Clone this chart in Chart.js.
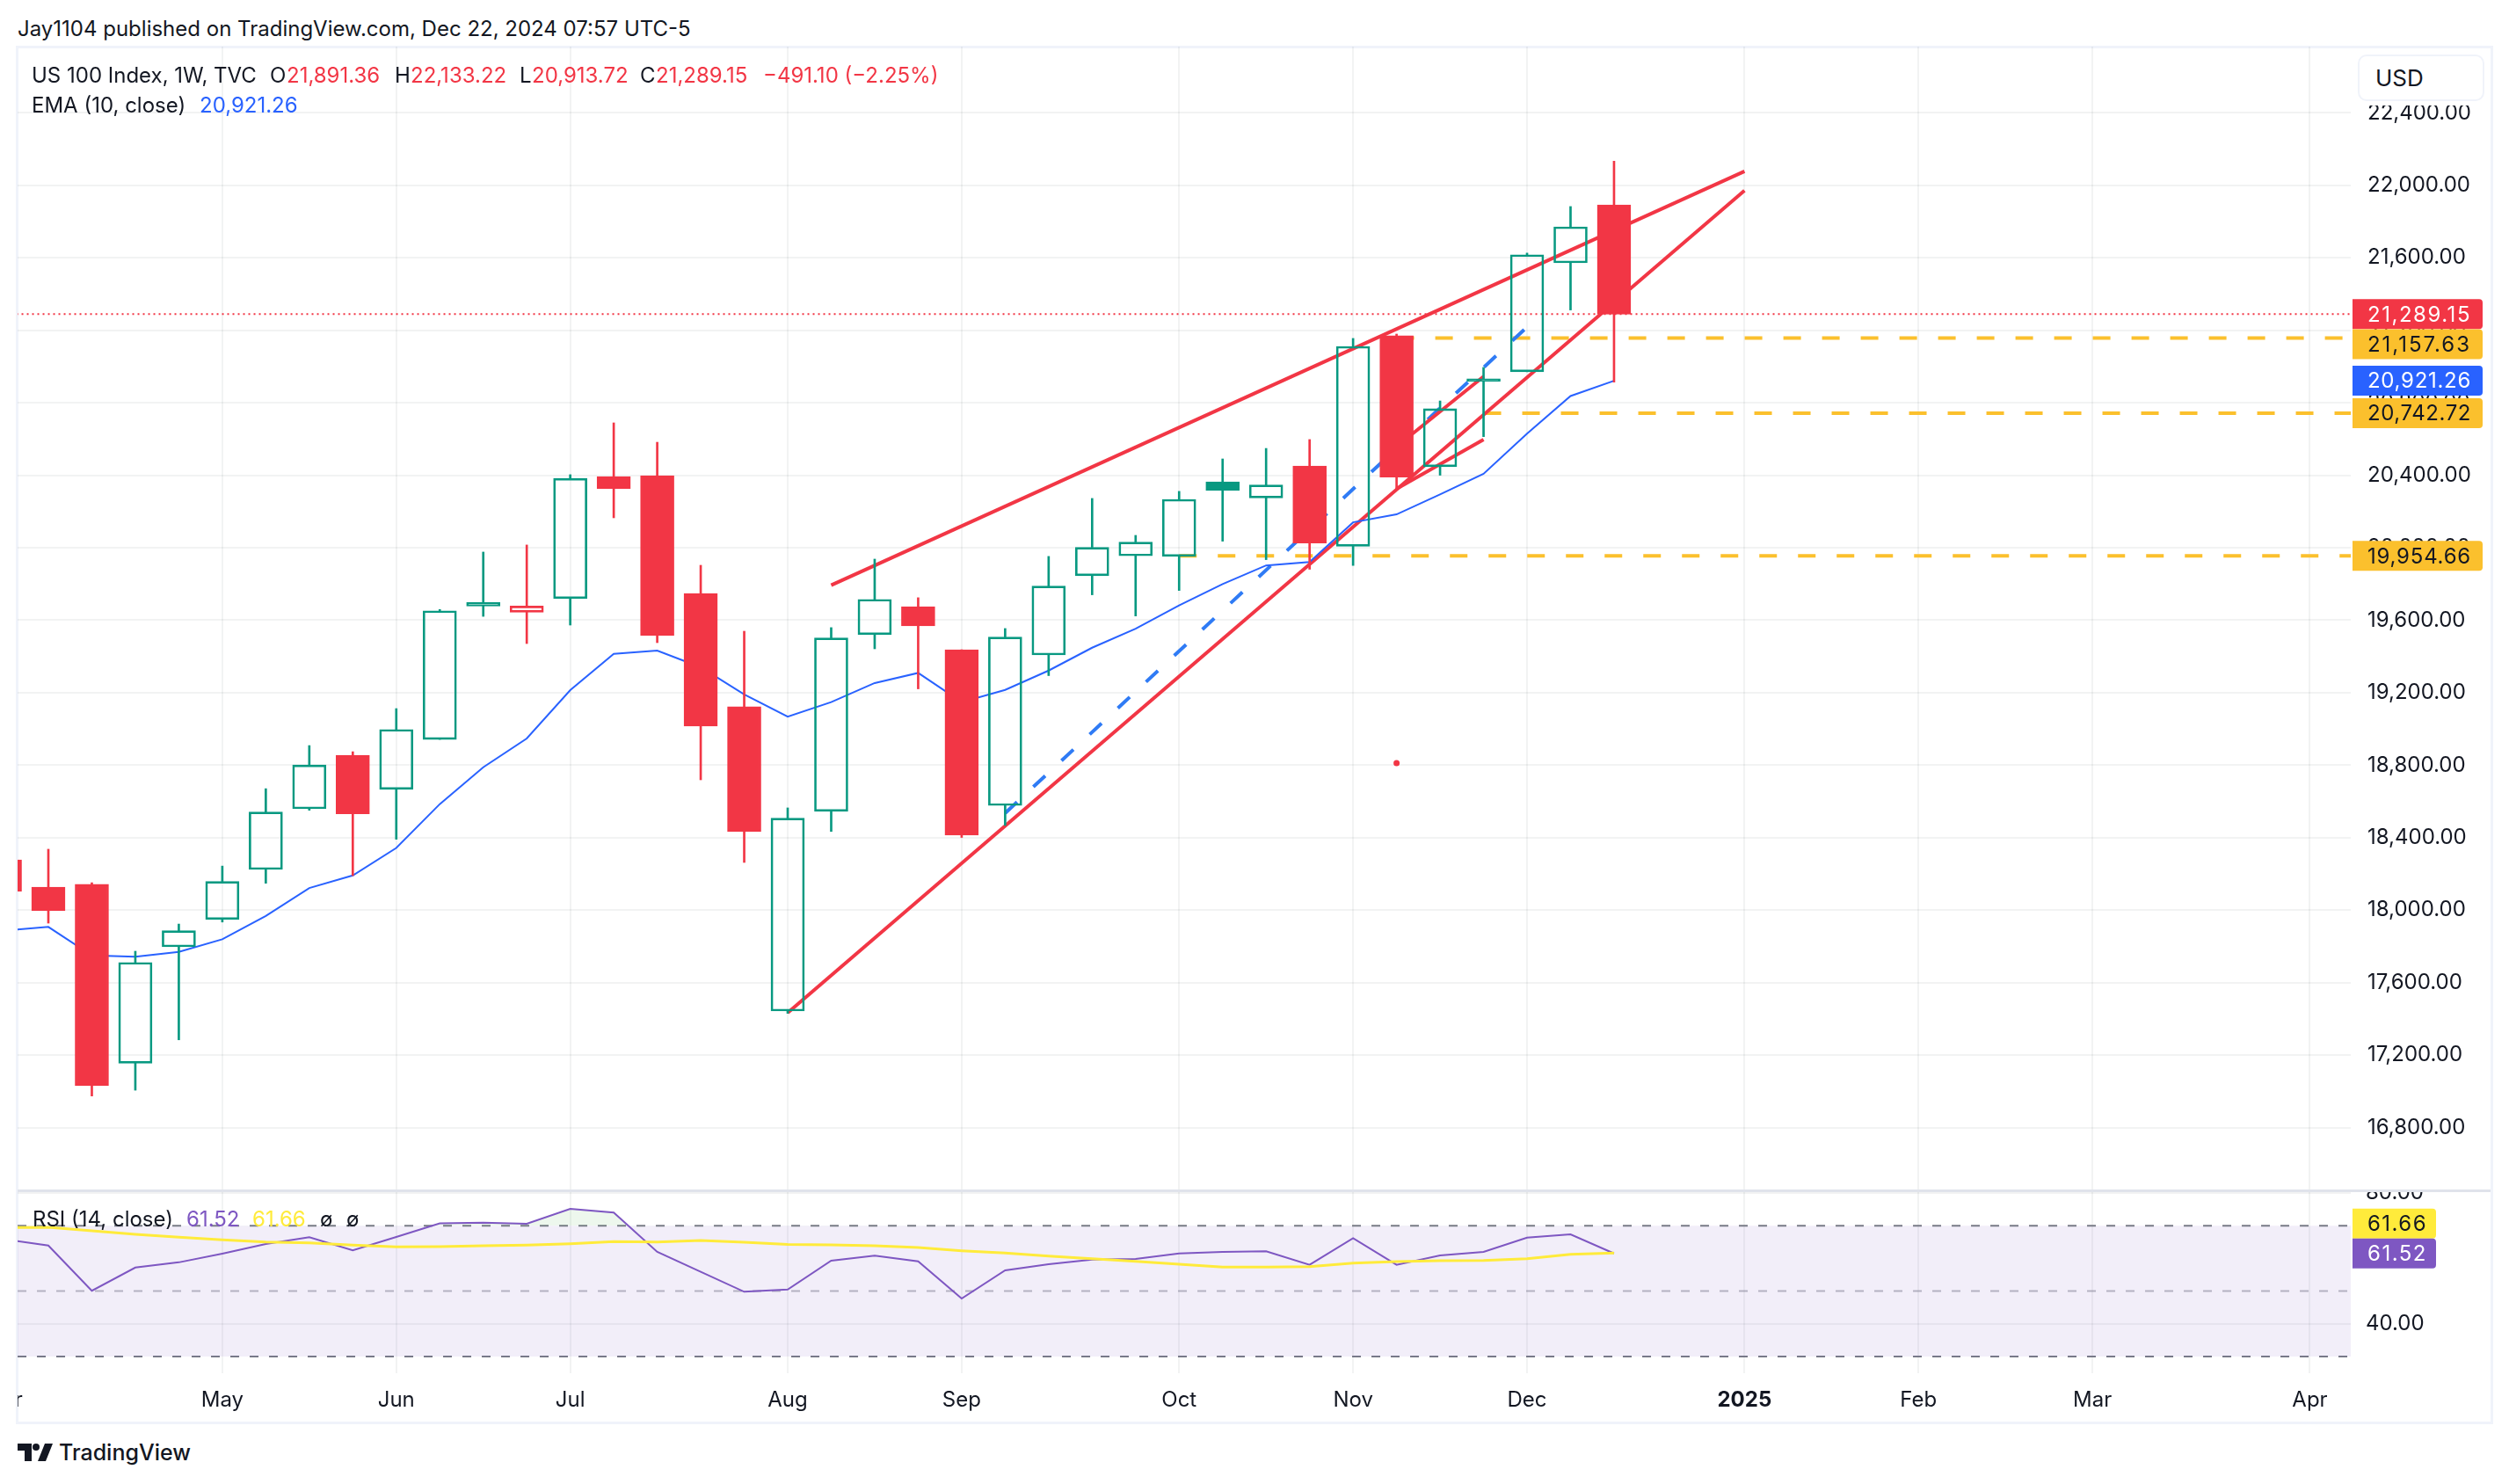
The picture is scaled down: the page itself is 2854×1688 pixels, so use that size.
<!DOCTYPE html>
<html>
<head>
<meta charset="utf-8">
<title>US 100 Index</title>
<script src="https://cdn.jsdelivr.net/npm/chart.js@4/dist/chart.umd.min.js"></script>
<style>
  html, body { margin: 0; padding: 0; background: #fff; width: 2854px; height: 1688px; overflow: hidden; }
  body { font-family: Inter, "Noto Sans", sans-serif; color: #131722; position: relative; }
  canvas { position: absolute; }
  .txt { position: absolute; white-space: nowrap; line-height: 30px; font-size: 24px; }
  .red { color: #f23645; }
  .blue { color: #2962ff; }
  .purple { color: #7e57c2; }
  .yellow { color: #ffeb3b; }
  #frame { position: absolute; left: 18px; top: 52px; width: 2812px; height: 1562px; border: 3px solid #f0f3fa; }
  #separator { position: absolute; left: 20px; top: 1353px; width: 2813px; height: 3px; background: #e0e3eb; }
  #axisCover { position: absolute; left: 2676px; top: 55px; width: 155px; height: 65px; background: #fff; }
  #usd { position: absolute; left: 2682px; top: 62px; width: 140px; height: 49px; border: 2px solid #f0f3fa; border-radius: 10px;
         background: #fff; font-size: 26px; line-height: 49px; text-indent: 18px; }
</style>
</head>
<body>
<div id="frame"></div>
<canvas id="priceChart" width="2813" height="1300" style="left:20px;top:53px"></canvas>
<div id="separator"></div>
<canvas id="rsiChart" width="2813" height="261" style="left:20px;top:1356px"></canvas>
<div id="axisCover"></div>
<div id="usd">USD</div>

<div class="txt" style="left:20px;top:18px;font-size:24px">Jay1104 published on TradingView.com, Dec 22, 2024 07:57 UTC-5</div>

<div class="txt" style="left:36px;top:71px">US 100 Index, 1W, TVC</div>
<div class="txt" style="left:307px;top:71px">O</div>
<div class="txt red" style="left:326px;top:71px">21,891.36</div>
<div class="txt" style="left:449px;top:71px">H</div>
<div class="txt red" style="left:467px;top:71px">22,133.22</div>
<div class="txt" style="left:591px;top:71px">L</div>
<div class="txt red" style="left:605px;top:71px">20,913.72</div>
<div class="txt" style="left:728px;top:71px">C</div>
<div class="txt red" style="left:746px;top:71px">21,289.15</div>
<div class="txt red" style="left:868px;top:71px">−491.10 (−2.25%)</div>
<div class="txt" style="left:36px;top:105px">EMA (10, close)</div>
<div class="txt blue" style="left:227px;top:105px">20,921.26</div>

<div class="txt" style="left:37px;top:1372px">RSI (14, close)</div>
<div class="txt purple" style="left:212px;top:1372px">61.52</div>
<div class="txt yellow" style="left:287px;top:1372px">61.66</div>
<div class="txt" style="left:364px;top:1372px">ø</div>
<div class="txt" style="left:394px;top:1372px">ø</div>

<svg style="position:absolute;left:20px;top:1642px" width="40" height="20" viewBox="0 0 40 20">
  <path d="M0 0H16V20H8V8H0Z M31 0H40L32 20H23Z" fill="#131722"></path>
  <circle cx="21" cy="4" r="4" fill="#131722"></circle>
</svg>
<div class="txt" style="left:67px;top:1637px;font-size:25px;font-weight:500">TradingView</div>

<script>
// ===== 1. CHART DATA =====
const weekIndexes = [-1,0,1,2,3,4,5,6,7,8,9,10,11,12,13,14,15,16,17,18,19,20,21,22,23,24,25,26,27,28,29,30,31,32,33,34,35,36];

const opens = [18277,18127,18142,17155,17797,17948,18224,18559,18855,18666,18942,19678,19644,19719,20393,20398,19747,19122,17443,18545,19520,19675,19437,18577,19408,19845,19955,19952,20364,20275,20451,20008,21170,20447,20932,20971,21572,21891.36];
const highs = [18300,18336,18151,17773,17923,18243,18670,18908,18874,19112,19659,19976,20015,20403,20689,20582,19903,19539,18564,19559,19937,19724,19437,19554,19952,20272,20068,20311,20490,20548,20597,21155,21179,20810,20995,21626,21883,22133.22];
const lows = [18080,17928,16974,17006,17284,17934,18148,18551,18190,18391,18942,19621,19471,19573,20165,19476,18719,18263,17430,18434,19442,19221,18401,18467,19294,19740,19623,19764,20036,19934,19881,19902,20319,20400,20613,20971,21312,20913.72];
const closes = [18103,17996,17031,17711,17886,18158,18541,18801,18531,18997,19652,19698,19678,20383,20325,19515,19015,18433,18507,19502,19715,19568,18414,19507,19788,20002,20031,20267,20316,20346,20026,21111,20390,20767,20919,21617,21771,21289.15];
const emaValues = [17887,17907,17750,17742,17769,17839,17968,18122,18191,18343,18585,18788,18947,19214,19414,19432,19340,19190,19068,19148,19253,19309,19148,19215,19322,19448,19553,19682,19799,19902,19921,20140,20184,20294,20408,20629,20837,20921.26];

const rsiValues = [65.8,63.95,50.1,57.2,58.8,61.45,64.4,66.5,62.45,66.55,70.7,70.95,70.6,75.15,74,62,55.9,49.8,50.5,59.3,60.83,59.11,47.74,56.34,58.23,59.65,59.84,61.53,61.99,62.18,58.04,66.21,58.04,60.91,61.99,66.37,67.37,61.52];
const rsiMaValues = [69.4,69.52,68.44,67.37,66.48,65.67,65.03,64.76,64.06,63.52,63.6,63.87,64.06,64.49,65.13,65.03,65.48,64.95,64.27,64.14,63.87,63.33,62.34,61.64,60.73,59.92,59.11,58.23,57.34,57.34,57.5,58.58,59.03,59.3,59.38,59.92,61.26,61.66];

const monthTicks = [-1,4,8,12,17,21,26,30,34,39,43,47,52];
const monthLabels = ['Apr','May','Jun','Jul','Aug','Sep','Oct','Nov','Dec','2025','Feb','Mar','Apr'];
const priceTicks = [16800,17200,17600,18000,18400,18800,19200,19600,20000,20400,20800,21200,21600,22000,22400];
const rsiTicks = [40,80];

// drawn lines on the chart: [week, week] and [price, price]
const upperTrendWeeks = [18,39];
const upperTrendPrices = [19793,22077];
const lowerTrendWeeks = [17,39];
const lowerTrendPrices = [17433,21971];
const shortTrendWeeks = [31,33];
const shortTrendHighPrices = [20558,20945];
const shortTrendLowPrices = [20325,20597];
const blueTrendWeeks = [22,34];
const blueTrendPrices = [18535,21218];
const levelPrices = [21157.63,20742.72,19954.66];
const levelStartWeeks = [31,33,26];
const dotWeeks = [31];
const dotPrices = [18811];

// ===== 2. COLOURS AND AXIS RANGES =====
const RED = '#f23645';
const GREEN = '#089981';
const BLUE = '#2962ff';
const ORANGE = '#fbc02d';
const DARK = '#131722';
const GRID = 'rgba(42,46,57,0.06)';
const AXIS_FONT = { family: 'Inter', size: 24 };

const weekMin = -0.7075;
const weekMax = 52.94;
const lineEnd = 53;

function points(xs, ys) {
  return xs.map(function(x, i) { return { x: x, y: ys[i] }; });
}

// Chart.js pulls the plot in for edge labels, we want it flush with the canvas
function noPadding(scale) {
  scale.paddingLeft = 0;
  scale.paddingRight = 0;
  scale.paddingTop = 0;
  scale.paddingBottom = 0;
}

// ===== 3. CANDLE HELPERS =====
function candleColor(i) {
  if (i === 0) return RED;
  return closes[i] >= closes[i - 1] ? GREEN : RED;
}

// solid body when price closed below the open, hollow otherwise
function bodyFill(i) {
  return closes[i] < opens[i] ? candleColor(i) : 'rgba(0,0,0,0)';
}

function barDataset(data, width, border, fill) {
  return {
    type: 'bar',
    data: data,
    grouped: false,
    barPercentage: 1,
    categoryPercentage: 1,
    maxBarThickness: width,
    borderWidth: border,
    borderSkipped: false,
    borderColor: weekIndexes.map(function(w, i) { return candleColor(i); }),
    backgroundColor: fill,
    order: 1
  };
}

function lineDataset(data, color, width, dash) {
  return {
    type: 'line',
    data: data,
    borderColor: color,
    borderWidth: width,
    borderDash: dash || [],
    borderCapStyle: 'butt',
    pointRadius: 0,
    tension: 0,
    fill: false,
    order: 5
  };
}

const bodies = weekIndexes.map(function(w, i) {
  return { x: w, y: [opens[i], closes[i]] };
});
const upperWicks = weekIndexes.map(function(w, i) {
  return { x: w, y: [Math.max(opens[i], closes[i]), highs[i]] };
});
const lowerWicks = weekIndexes.map(function(w, i) {
  return { x: w, y: [lows[i], Math.min(opens[i], closes[i])] };
});
const wickFill = weekIndexes.map(function(w, i) { return candleColor(i); });
const bodyFills = weekIndexes.map(function(w, i) { return bodyFill(i); });

const lastClose = closes[closes.length - 1];
const lastEma = emaValues[emaValues.length - 1];
const lastRsi = rsiValues[rsiValues.length - 1];
const lastRsiMa = rsiMaValues[rsiMaValues.length - 1];

// ===== 4. PRICE TAGS ON THE AXIS =====
function drawTag(chart, centerY, text, fill, color, tagWidth, textWidth) {
  const ctx = chart.ctx;
  const left = chart.chartArea.right + 2;
  ctx.save();
  ctx.fillStyle = fill;
  ctx.beginPath();
  ctx.roundRect(left, centerY - 17, tagWidth, 34, [0, 4, 4, 0]);
  ctx.fill();
  ctx.fillStyle = color;
  ctx.font = '24px Inter';
  ctx.textAlign = 'left';
  ctx.textBaseline = 'middle';
  // the original axis font has even digits, so spread the text to the same width
  ctx.letterSpacing = ((textWidth - ctx.measureText(text).width) / text.length) + 'px';
  ctx.fillText(text, chart.chartArea.right + 19, centerY + 1);
  ctx.restore();
}

function formatPrice(value) {
  return value.toLocaleString('en-US', { minimumFractionDigits: 2, maximumFractionDigits: 2 });
}

const priceTagsPlugin = {
  id: 'priceTags',
  afterDraw: function(chart) {
    const y = chart.scales.y;
    drawTag(chart, y.getPixelForValue(lastClose), formatPrice(lastClose), RED, '#fff', 148, 118);
    drawTag(chart, y.getPixelForValue(levelPrices[0]) + 7, formatPrice(levelPrices[0]), ORANGE, DARK, 148, 118);
    drawTag(chart, y.getPixelForValue(lastEma), formatPrice(lastEma), BLUE, '#fff', 148, 118);
    drawTag(chart, y.getPixelForValue(levelPrices[1]), formatPrice(levelPrices[1]), ORANGE, DARK, 148, 118);
    drawTag(chart, y.getPixelForValue(levelPrices[2]), formatPrice(levelPrices[2]), ORANGE, DARK, 148, 118);
  }
};

const rsiTagsPlugin = {
  id: 'rsiTags',
  afterDraw: function(chart) {
    const y = chart.scales.y.getPixelForValue(lastRsi);
    drawTag(chart, y - 34, lastRsiMa.toFixed(2), '#ffeb3b', DARK, 95, 68);
    drawTag(chart, y, lastRsi.toFixed(2), '#7e57c2', '#fff', 95, 68);
  }
};

// ===== 5. PRICE PANE =====
const priceDatasets = [
  barDataset(bodies, 38, 2, bodyFills),
  barDataset(upperWicks, 2, 0, wickFill),
  barDataset(lowerWicks, 2, 0, wickFill),
  lineDataset(points(weekIndexes, emaValues), BLUE, 2),
  lineDataset(points(upperTrendWeeks, upperTrendPrices), RED, 4),
  lineDataset(points(lowerTrendWeeks, lowerTrendPrices), RED, 4),
  lineDataset(points(shortTrendWeeks, shortTrendHighPrices), RED, 4),
  lineDataset(points(shortTrendWeeks, shortTrendLowPrices), RED, 4),
  lineDataset(points(blueTrendWeeks, blueTrendPrices), '#2f7bf5', 4, [18.5, 25.3]),
  lineDataset(points([weekMin - 1, lineEnd], [lastClose, lastClose]), RED, 2, [2, 4])
];
levelPrices.forEach(function(price, i) {
  priceDatasets.push(lineDataset(points([levelStartWeeks[i], lineEnd], [price, price]), ORANGE, 4, [20, 24]));
});
priceDatasets.push({
  type: 'line',
  data: points(dotWeeks, dotPrices),
  showLine: false,
  pointRadius: 3.5,
  pointBackgroundColor: RED,
  pointBorderWidth: 0,
  order: 5
});

new Chart(document.getElementById('priceChart'), {
  type: 'bar',
  data: { datasets: priceDatasets },
  plugins: [priceTagsPlugin],
  options: {
    responsive: false,
    animation: false,
    events: [],
    // autoPadding would pull the plot in for the red dot's radius
    layout: { padding: 0, autoPadding: false },
    plugins: { legend: { display: false }, tooltip: { enabled: false } },
    scales: {
      x: {
        type: 'linear',
        offset: false,
        min: weekMin,
        max: weekMax,
        border: { display: false },
        grid: { color: GRID, lineWidth: 2, drawTicks: false, offset: false },
        ticks: { display: false },
        afterBuildTicks: function(scale) {
          scale.ticks = monthTicks.map(function(v) { return { value: v }; });
        },
        afterFit: function(scale) { scale.height = 0; noPadding(scale); }
      },
      y: {
        type: 'linear',
        position: 'right',
        offset: false,
        beginAtZero: false,
        min: 16458,
        max: 22765.6,
        border: { display: false },
        grid: { color: GRID, lineWidth: 2, drawTicks: false, offset: false },
        ticks: {
          color: DARK,
          font: AXIS_FONT,
          padding: 19,
          callback: function(v) { return formatPrice(v); }
        },
        afterBuildTicks: function(scale) {
          scale.ticks = priceTicks.map(function(v) { return { value: v }; });
        },
        afterFit: function(scale) { scale.width = 159; noPadding(scale); }
      }
    }
  }
});

// ===== 6. RSI PANE =====
const bandDash = [10, 12];
const bandUpper = lineDataset(points([weekMin - 1, lineEnd], [70, 70]), '#787b86', 2, bandDash);
bandUpper.fill = '+1';
bandUpper.backgroundColor = 'rgba(126,87,194,0.1)';
bandUpper.borderDashOffset = 16.5;
const bandLower = lineDataset(points([weekMin - 1, lineEnd], [30, 30]), '#787b86', 2, bandDash);
bandLower.borderDashOffset = 16.5;
const bandMiddle = lineDataset(points([weekMin - 1, lineEnd], [50, 50]), 'rgba(120,123,134,0.5)', 2, bandDash);
bandMiddle.borderDashOffset = 16.5;
const rsiLine = lineDataset(points(weekIndexes, rsiValues), '#7e57c2', 2);
rsiLine.fill = { target: { value: 70 }, above: 'rgba(76,175,80,0.1)', below: 'rgba(0,0,0,0)' };
rsiLine.order = 2;
const rsiMaLine = lineDataset(points(weekIndexes, rsiMaValues), '#ffeb3b', 3);
rsiMaLine.order = 1;

new Chart(document.getElementById('rsiChart'), {
  type: 'line',
  data: { datasets: [bandUpper, bandLower, bandMiddle, rsiLine, rsiMaLine] },
  plugins: [rsiTagsPlugin],
  options: {
    responsive: false,
    animation: false,
    events: [],
    layout: { padding: 0, autoPadding: false },
    plugins: { legend: { display: false }, tooltip: { enabled: false } },
    scales: {
      x: {
        type: 'linear',
        min: weekMin,
        max: weekMax,
        border: { display: false },
        grid: { color: GRID, lineWidth: 2, drawTicks: false },
        ticks: {
          color: DARK,
          autoSkip: false,
          maxRotation: 0,
          padding: 16,
          font: function(ctx) {
            const isYear = ctx.tick && monthLabels[monthTicks.indexOf(ctx.tick.value)] === '2025';
            return { family: 'Inter', size: 24, weight: isYear ? 'bold' : 'normal' };
          },
          callback: function(v) { return monthLabels[monthTicks.indexOf(v)]; }
        },
        afterBuildTicks: function(scale) {
          scale.ticks = monthTicks.map(function(v) { return { value: v }; });
        },
        afterFit: function(scale) { scale.height = 55; noPadding(scale); }
      },
      y: {
        type: 'linear',
        position: 'right',
        min: 24.89,
        max: 80.27,
        border: { display: false },
        grid: { color: GRID, lineWidth: 2, drawTicks: false },
        ticks: {
          color: DARK,
          font: AXIS_FONT,
          padding: 17,
          callback: function(v) { return v.toFixed(2); }
        },
        afterBuildTicks: function(scale) {
          scale.ticks = rsiTicks.map(function(v) { return { value: v }; });
        },
        afterFit: function(scale) { scale.width = 159; noPadding(scale); }
      }
    }
  }
});
</script>
</body>
</html>
